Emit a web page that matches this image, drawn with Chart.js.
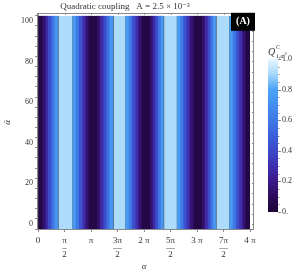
<!DOCTYPE html>
<html>
<head>
<meta charset="utf-8">
<script src="https://cdn.jsdelivr.net/npm/chart.js@4/dist/chart.umd.min.js"></script>
<style>
  html, body { margin: 0; padding: 0; background: #fff; }
  #wrap { width: 299px; height: 274px; }
</style>
</head>
<body>
<div id="wrap"><canvas id="plot"></canvas></div>
<script>
// Contour bands of Q(alpha). The plot only varies with
// alpha, so every band spans the full alpha-bar range. Alpha is in units of pi.
const BAND_EDGES = [
  0.00, 0.09, 0.15, 0.20, 0.26, 0.32, 0.38, 0.66, 0.72, 0.78, 0.84, 0.90, 0.96,
  1.12, 1.18, 1.24, 1.30, 1.36, 1.42, 1.66, 1.72, 1.78, 1.84, 1.90, 1.96,
  2.12, 2.17, 2.22, 2.27, 2.32, 2.37, 2.63, 2.69, 2.75, 2.81, 2.87, 2.94,
  3.10, 3.16, 3.21, 3.26, 3.31, 3.36, 3.62, 3.68, 3.74, 3.80, 3.86, 3.92,
  4.00,
];
const BAND_LEVELS = [
  0.04, 0.14, 0.28, 0.42, 0.58, 0.74, 0.91, 0.76, 0.60, 0.44, 0.30, 0.16,
  0.04, 0.14, 0.28, 0.42, 0.58, 0.74, 0.91, 0.76, 0.60, 0.44, 0.30, 0.16,
  0.04, 0.14, 0.28, 0.42, 0.58, 0.74, 0.91, 0.76, 0.60, 0.44, 0.30, 0.16,
  0.04, 0.14, 0.28, 0.42, 0.58, 0.74, 0.91, 0.76, 0.60, 0.44, 0.30, 0.16,
  0.04,
];

const ALPHA_RANGE = [0, 4];          // 0 .. 4 pi
const ABAR_RANGE = [0, 100];
const X_TICK_LABELS = ["0", ["π", "–", "2"], "π", ["3π", "—", "2"], "2 π",
                       ["5π", "—", "2"], "3 π", ["7π", "—", "2"], "4 π"];
const CB_TICKS = [0, 0.2, 0.4, 0.6, 0.8, 1.0];
const CB_LABELS = ["0.", "0.2", "0.4", "0.6", "0.8", "1.0"];

// colour map (value -> colour), sampled off the colour bar
const CMAP_STOPS  = [0, 0.1, 0.2, 0.3, 0.4, 0.5, 0.6, 0.7, 0.8, 0.9, 1.0];
const CMAP_COLORS = ["#1f0638", "#2c0c5a", "#3b1888", "#3f2fae", "#3c48c8",
                     "#3b5fd9", "#3f79e6", "#448ef0", "#4aa3f4", "#a6d8fb", "#e8f6ff"];

const SERIF = "'Liberation Serif', 'DejaVu Serif', serif";

function hexRgb(h) {
  return [1, 3, 5].map((i) => parseInt(h.slice(i, i + 2), 16));
}
function colorAt(v) {
  for (let i = 1; i < CMAP_STOPS.length; i++) {
    if (v <= CMAP_STOPS[i]) {
      const t = (v - CMAP_STOPS[i - 1]) / (CMAP_STOPS[i] - CMAP_STOPS[i - 1]);
      const a = hexRgb(CMAP_COLORS[i - 1]), b = hexRgb(CMAP_COLORS[i]);
      return `rgb(${a.map((c, k) => Math.round(c + (b[k] - c) * t)).join(",")})`;
    }
  }
  return CMAP_COLORS[CMAP_COLORS.length - 1];
}

const bands = BAND_LEVELS.map((lv, i) => ({ a0: BAND_EDGES[i], a1: BAND_EDGES[i + 1], level: lv }));

// frame round the plot, with ticks mirrored on top and right like the original
const framePlugin = {
  id: "frame",
  afterDatasetsDraw(chart) {
    const { ctx, chartArea: a, scales } = chart;
    ctx.save();
    ctx.strokeStyle = "#8a8a8a";
    ctx.lineWidth = 1;
    const top = a.top - 3, right = a.right + 4;
    ctx.strokeRect(Math.round(a.left) - 0.5, Math.round(top) + 0.5,
                   Math.round(right - a.left), Math.round(a.bottom - top));
    ctx.beginPath();
    scales.yv.ticks.forEach((t) => {
      const y = Math.round(scales.yv.getPixelForValue(t.value)) + 0.5;
      ctx.moveTo(right, y); ctx.lineTo(right - 2, y);
    });
    scales.x.ticks.forEach((t) => {
      const x = Math.round(scales.x.getPixelForValue(t.value)) + 0.5;
      ctx.moveTo(x, top); ctx.lineTo(x, top + 2);
    });
    ctx.stroke();
    ctx.restore();
  },
};

// the black "(A)" tag in the top-right corner
const tagPlugin = {
  id: "tag",
  afterDraw(chart) {
    const { ctx, chartArea: a } = chart;
    ctx.save();
    ctx.fillStyle = "#000";
    ctx.fillRect(a.right - 19, a.top - 3, 24, 18);
    ctx.fillStyle = "#fff";
    ctx.font = `bold 10px ${SERIF}`;
    ctx.textAlign = "center";
    ctx.textBaseline = "middle";
    ctx.fillText("(A)", a.right - 7, a.top + 6);
    ctx.restore();
  },
};

// colour bar legend on the right
const colorbarPlugin = {
  id: "colorbar",
  afterDraw(chart) {
    const { ctx, chartArea: a } = chart;
    const x0 = a.right + 18, w = 10, top = 59, bottom = 212;
    const pix = (v) => bottom - (bottom - top) * v;
    ctx.save();
    const g = ctx.createLinearGradient(0, bottom, 0, top);
    CMAP_STOPS.forEach((s, i) => g.addColorStop(s, CMAP_COLORS[i]));
    ctx.fillStyle = g;
    ctx.fillRect(x0, top, w, bottom - top);
    ctx.strokeStyle = "#8a8a8a";
    ctx.lineWidth = 1;
    ctx.beginPath();
    for (let v = 0; v <= 1.0001; v += 0.05) {
      const y = Math.round(pix(v)) + 0.5;
      const major = Math.abs(v * 5 - Math.round(v * 5)) < 1e-6;
      ctx.moveTo(x0 + w, y); ctx.lineTo(x0 + w + (major ? 3 : 1.5), y);
    }
    ctx.stroke();
    ctx.fillStyle = "#333";
    ctx.font = `8px ${SERIF}`;
    ctx.textAlign = "left";
    ctx.textBaseline = "middle";
    CB_TICKS.forEach((v, i) => ctx.fillText(CB_LABELS[i], x0 + w + 4, pix(v)));
    // title: script Q with super/sub scripts
    ctx.font = `italic 10px ${SERIF}`;
    ctx.fillText("Q", x0, 52);
    ctx.font = `italic 6px ${SERIF}`;
    ctx.fillText("C", x0 + 8, 47);
    ctx.fillText("1,α", x0 + 8, 56);
    ctx.font = `5px ${SERIF}`;
    ctx.fillText("2", x0 + 16.5, 54);
    ctx.restore();
  },
};

new Chart(document.getElementById("plot"), {
  type: "bar",
  data: {
    labels: ["band"],
    datasets: [{
      data: bands.map((b) => ({ x: [b.a0, b.a1], y: "band" })),
      backgroundColor: bands.map((b) => colorAt(b.level)),
      borderColor: "#4f6a80",
      borderWidth: (c) => (bands[c.dataIndex] && bands[c.dataIndex].level > 0.9
        ? { left: 1, right: 1, top: 0, bottom: 0 } : 0),
      borderSkipped: false,
      categoryPercentage: 1,
      barPercentage: 1,
      xAxisID: "x",
      yAxisID: "y",
    }],
  },
  options: {
    indexAxis: "y",
    animation: false,
    responsive: true,
    maintainAspectRatio: false,
    layout: { padding: { left: 0, right: 49, top: 0, bottom: 0 } },
    plugins: {
      legend: { display: false },
      tooltip: { enabled: false },
      title: {
        display: true,
        text: "Quadratic coupling   A = 2.5 × 10⁻³",
        color: "#333",
        font: { family: SERIF, size: 9, weight: "normal" },
        padding: { top: 1, bottom: 4 },
      },
    },
    scales: {
      x: {
        type: "linear",
        min: ALPHA_RANGE[0],
        max: ALPHA_RANGE[1],
        afterFit: (s) => { s.height = 45; },
        ticks: {
          stepSize: 0.5,
          autoSkip: false,
          maxRotation: 0,
          padding: 5,
          color: "#333",
          font: { family: SERIF, size: 9, lineHeight: 0.8 },
          callback: (v, i) => X_TICK_LABELS[i],
        },
        grid: { drawOnChartArea: false, tickLength: 3, color: "#8a8a8a" },
        border: { color: "#8a8a8a" },
        title: {
          display: true,
          text: "α",
          color: "#333",
          font: { family: SERIF, size: 9, style: "italic" },
          padding: { top: 0, bottom: 2 },
        },
      },
      y: { type: "category", display: false },
      yv: {
        type: "linear",
        position: "left",
        min: ABAR_RANGE[0],
        max: ABAR_RANGE[1],
        afterFit: (s) => { s.width = 38; },
        ticks: {
          stepSize: 5,
          autoSkip: false,
          padding: 2,
          color: "#333",
          font: { family: SERIF, size: 8 },
          callback: (v) => (v % 20 === 0 ? String(v) : ""),
        },
        grid: { drawOnChartArea: false, tickLength: 3, color: "#8a8a8a" },
        border: { color: "#8a8a8a" },
        title: {
          display: true,
          text: "ᾱ",
          color: "#333",
          font: { family: SERIF, size: 9, style: "italic" },
          padding: { top: 2, bottom: 0 },
        },
      },
    },
  },
  plugins: [framePlugin, tagPlugin, colorbarPlugin],
});
</script>
</body>
</html>
